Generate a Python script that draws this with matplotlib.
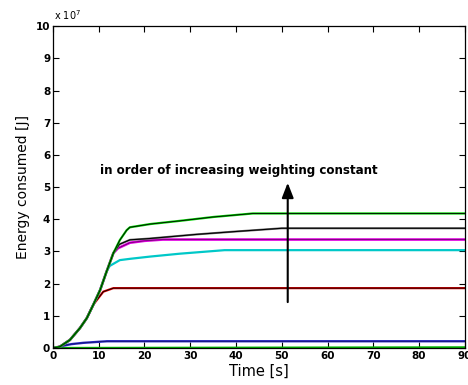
import numpy as np
import matplotlib
matplotlib.use("Agg")
from matplotlib import pyplot as plt

# common rising part shared by all the heavier curves (x 1e7 J)
rise_t=[0,1.5,3.7,5.9,7.4,8.8,10.3,11.7,13.2]
rise_e=[0,0.04,0.25,0.62,0.93,1.34,1.8,2.37,2.95]

# tails of each curve after they split off
green_t=[14.6,16.1,16.8,21.2,27.7,35,43.7,90]
green_e=[3.35,3.66,3.75,3.85,3.95,4.07,4.18,4.18]
black_t=[14.5,16.8,21,31.4,40,50,90]
black_e=[3.22,3.36,3.4,3.53,3.62,3.72,3.72]
magenta_t=[14.2,16.8,20,24,90]
magenta_e=[3.1,3.27,3.33,3.37,3.37]
cyan_t=[12.4,14.6,16.8,21.2,27.7,37.5,90]
cyan_e=[2.55,2.73,2.77,2.84,2.93,3.04,3.04]
red_t=[9.2,11,13.2,90]
red_e=[1.42,1.75,1.86,1.86]
blue_t=[0,1,2.2,4,6.6,11.8,90]
blue_e=[0,0.01,0.07,0.12,0.16,0.21,0.21]
low_t=[0,90]
low_e=[0,0.02]

def full(t,e,cut):
    n=len([x for x in rise_t if x<cut])
    return rise_t[:n]+t, rise_e[:n]+e

fig=plt.figure(figsize=(4.68,3.85),dpi=100)
ax=fig.add_axes([0.1132,0.0961,0.880,0.836])

gt,ge=full(green_t,green_e,14.6)
bt,be=full(black_t,black_e,14.5)
mt,me=full(magenta_t,magenta_e,14.2)
ct,ce=full(cyan_t,cyan_e,12.4)
rt,re_=full(red_t,red_e,9.2)

ax.plot(low_t,low_e,color="#00b000",lw=1.6)
ax.plot(blue_t,blue_e,color="#2828c8",lw=1.7)
ax.plot(blue_t,blue_e,color="#101060",lw=0.5)
ax.plot(rt,re_,color="#e00000",lw=1.6)
ax.plot(rt,re_,color="black",lw=0.6)
ax.plot(ct,ce,color="#00c8c8",lw=1.6)
ax.plot(mt,me,color="#e000e0",lw=1.9)
ax.plot(mt,me,color="#600060",lw=0.5)
ax.plot(bt,be,color="#707070",lw=1.5)
ax.plot(bt,be,color="black",lw=0.8)
ax.plot(gt,ge,color="#00d000",lw=1.6)
ax.plot(gt,ge,color="black",lw=0.6)

ax.annotate("",xy=(51.3,5.22),xytext=(51.3,1.34),
            arrowprops=dict(arrowstyle="-|>,head_width=0.35,head_length=0.9",color="black",lw=1.5))
ax.text(10.2,5.53,"in order of increasing weighting constant",fontsize=8.6,
        fontweight="bold",va="center",ha="left")

ax.set_xlim(0,90)
ax.set_ylim(0,10)
ax.set_xticks(range(0,91,10))
ax.set_yticks(range(0,11))
ax.tick_params(direction="in",top=True,right=True,labelsize=7.5,length=4,width=0.8,pad=2)
for lab in ax.get_xticklabels()+ax.get_yticklabels():
    lab.set_fontweight("bold")
for s in ax.spines.values():
    s.set_linewidth(0.9)
ax.set_xlabel("Time [s]",fontsize=10.5,labelpad=2)
ax.set_ylabel("Energy consumed [J]",fontsize=10,labelpad=4)
ax.text(0.2,10.12,r"x 10$^{7}$",fontsize=7,va="bottom",ha="left")

fig.savefig("out.png",dpi=100)
